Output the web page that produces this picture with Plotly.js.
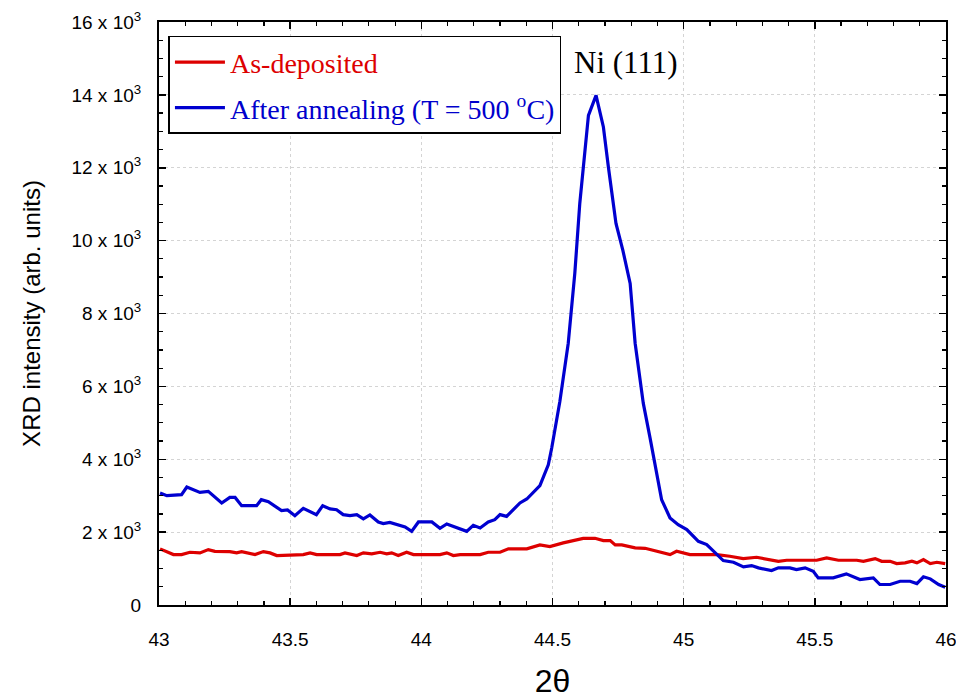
<!DOCTYPE html>
<html>
<head>
<meta charset="utf-8">
<script src="https://cdn.plot.ly/plotly-3.0.1.min.js"></script>
<style>html,body{margin:0;padding:0;background:#fff;}#chart{width:956px;height:699px;}</style>
</head>
<body>
<div id="chart"></div>
<script>
// As-deposited (red)
const asDepX = [43.004,43.055,43.086,43.118,43.156,43.188,43.213,43.27,43.296,43.315,43.366,43.398,43.423,43.449,43.55,43.576,43.601,43.69,43.709,43.754,43.779,43.811,43.843,43.868,43.887,43.912,43.944,43.97,44.071,44.097,44.122,44.148,44.224,44.255,44.3,44.332,44.402,44.433,44.452,44.49,44.541,44.617,44.662,44.694,44.72,44.739,44.764,44.815,44.853,44.948,44.973,45.024,45.062,45.126,45.176,45.227,45.278,45.316,45.361,45.393,45.507,45.545,45.59,45.66,45.685,45.73,45.755,45.787,45.812,45.844,45.87,45.889,45.914,45.94,45.965,45.997];
const asDepY = [1540,1384,1384,1447,1430,1521,1474,1466,1430,1466,1384,1466,1430,1356,1384,1430,1384,1384,1430,1356,1430,1403,1447,1403,1430,1356,1447,1384,1384,1430,1356,1384,1384,1447,1447,1540,1540,1611,1649,1603,1704,1830,1830,1767,1767,1649,1649,1567,1556,1384,1474,1384,1384,1384,1338,1274,1310,1266,1200,1228,1228,1293,1228,1228,1200,1274,1200,1200,1137,1156,1200,1156,1247,1137,1173,1137];

// After annealing T = 500 °C (blue)
const annX = [43.004,43.03,43.086,43.106,43.156,43.188,43.239,43.27,43.29,43.315,43.372,43.39,43.417,43.467,43.49,43.518,43.55,43.6,43.624,43.652,43.677,43.702,43.728,43.754,43.779,43.804,43.836,43.855,43.88,43.938,43.963,43.989,44.04,44.071,44.097,44.135,44.173,44.198,44.224,44.255,44.28,44.3,44.325,44.376,44.402,44.452,44.484,44.497,44.528,44.56,44.585,44.604,44.637,44.666,44.694,44.713,44.742,44.768,44.796,44.815,44.846,44.872,44.916,44.948,44.979,45.012,45.056,45.088,45.113,45.151,45.19,45.228,45.259,45.285,45.335,45.361,45.405,45.43,45.463,45.494,45.513,45.57,45.62,45.672,45.723,45.748,45.787,45.825,45.863,45.889,45.914,45.94,45.972,45.997];
const annY = [3074,3000,3027,3238,3090,3118,2800,2953,2953,2726,2726,2890,2836,2589,2608,2452,2652,2480,2726,2636,2616,2480,2452,2480,2362,2471,2279,2233,2268,2142,2022,2279,2279,2104,2225,2132,2022,2186,2115,2279,2342,2480,2433,2800,2909,3274,3849,4307,5584,7184,9101,11019,13438,13986,13118,12022,10471,9740,8827,7184,5540,4580,2890,2389,2205,2068,1748,1658,1493,1219,1173,1047,1082,1019,945,1019,1019,973,1019,926,745,745,855,699,745,562,562,652,652,589,773,718,562,488];

const yTickVals = [0,2000,4000,6000,8000,10000,12000,14000,16000];
const yTickLabels = ['0','2 x 10<sup>3</sup>','4 x 10<sup>3</sup>','6 x 10<sup>3</sup>','8 x 10<sup>3</sup>','10 x 10<sup>3</sup>','12 x 10<sup>3</sup>','14 x 10<sup>3</sup>','16 x 10<sup>3</sup>'];
const xTickVals = [43,43.5,44,44.5,45,45.5,46];
const xTickLabels = ['43','43.5','44','44.5','45','45.5','46'];

const seriesNames = ['<span style="color:#dd0000">As-deposited</span>','<span style="color:#0000cc">After annealing (T = 500 <sup>o</sup>C)</span>'];
const peakLabel = 'Ni (111)';

const traces = [
  {x: asDepX, y: asDepY, mode: 'lines', name: seriesNames[0], legendgroup: 'a',
   line: {color: '#dd0000', width: 3.2}},
  {x: annX, y: annY, mode: 'lines', name: seriesNames[1], legendgroup: 'b',
   line: {color: '#0000d0', width: 3.2}}
];

const tickFont = {family: 'Arial, Liberation Sans, sans-serif', size: 19, color: '#000'};

const layout = {
  width: 956, height: 699,
  margin: {l: 159, r: 10, t: 22, b: 94},
  paper_bgcolor: '#fff', plot_bgcolor: '#fff',
  font: {family: 'Arial, Liberation Sans, sans-serif', size: 18, color: '#000'},
  showlegend: true,
  legend: {
    x: 0.012, y: 0.976, xanchor: 'left', yanchor: 'top',
    bgcolor: '#fff', bordercolor: '#000', borderwidth: 1.5,
    font: {family: 'Liberation Serif, Times New Roman, serif', size: 28, color: '#000'},
    traceorder: 'grouped', tracegroupgap: 6, itemwidth: 50
  },
  xaxis: {
    range: [43, 46], tickmode: 'array', tickvals: xTickVals, ticktext: xTickLabels,
    tickfont: tickFont, ticklabeloverflow: 'allow',
    showline: true, linecolor: '#000', linewidth: 2, mirror: 'ticks',
    ticks: 'inside', tickcolor: '#000', tickwidth: 1.5, ticklen: 7,
    showgrid: true, gridcolor: '#d4d4d4', griddash: 'dot', gridwidth: 1, zeroline: false,
    ticklabelstandoff: 16,
    minor: {dtick: 0.1, ticks: 'inside', ticklen: 4, tickcolor: '#000', tickwidth: 1.2, showgrid: false},
    title: {text: '2θ', font: {family: 'Arial, Liberation Sans, sans-serif', size: 32, color: '#000'}, standoff: 22}
  },
  yaxis: {
    range: [0, 16000], tickmode: 'array', tickvals: yTickVals, ticktext: yTickLabels,
    tickfont: tickFont, ticklabeloverflow: 'allow',
    showline: true, linecolor: '#000', linewidth: 2, mirror: 'ticks',
    ticks: 'inside', tickcolor: '#000', tickwidth: 1.5, ticklen: 7,
    showgrid: true, gridcolor: '#d4d4d4', griddash: 'dot', gridwidth: 1, zeroline: false,
    ticklabelstandoff: 12,
    minor: {dtick: 500, ticks: 'inside', ticklen: 4, tickcolor: '#000', tickwidth: 1.2, showgrid: false},
    title: {text: 'XRD intensity (arb. units)', font: {family: 'Arial, Liberation Sans, sans-serif', size: 24, color: '#000'}, standoff: 24}
  },
  annotations: [
    {x: 44.78, y: 14890, xref: 'x', yref: 'y', text: peakLabel, showarrow: false,
     xanchor: 'center', yanchor: 'middle',
     font: {family: 'Liberation Serif, Times New Roman, serif', size: 31, color: '#000'}}
  ]
};

Plotly.newPlot('chart', traces, layout, {displayModeBar: false, staticPlot: true});
</script>
</body>
</html>
